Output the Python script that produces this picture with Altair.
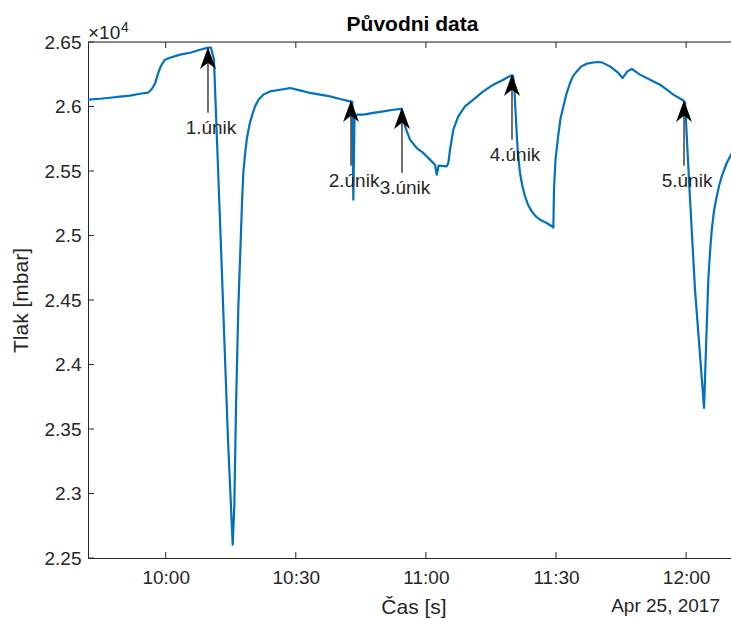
import altair as alt
import pandas as pd

# ---------------- data ----------------
DAY = "2017-04-25T"

times = [
    "09:42:05", "09:44:51", "09:47:09", "09:49:28", "09:51:46", "09:54:04",
    "09:55:55", "09:56:50", "09:57:32", "09:58:13", "09:58:55", "09:59:50",
    "10:01:00", "10:03:18", "10:05:36", "10:07:55", "10:09:45", "10:10:27",
    "10:11:08", "10:12:41", "10:14:22", "10:15:27", "10:15:49", "10:16:13",
    "10:16:45", "10:17:18", "10:17:36", "10:17:54", "10:18:17", "10:18:41",
    "10:19:03", "10:19:26", "10:19:58", "10:20:36", "10:21:24",
    "10:22:30", "10:24:03", "10:26:22", "10:28:40", "10:30:58", "10:33:17",
    "10:35:35", "10:37:53", "10:40:12", "10:42:30", "10:43:02", "10:43:16",
    "10:43:32", "10:44:11", "10:45:34", "10:47:52", "10:50:11", "10:52:29",
    "10:54:25", "10:55:11", "10:56:20", "10:57:53", "10:59:24", "11:00:57",
    "11:02:06", "11:02:30", "11:02:55", "11:04:48", "11:05:10", "11:05:34",
    "11:06:19", "11:07:28", "11:09:01", "11:10:56", "11:13:14", "11:15:33",
    "11:17:51", "11:19:33", "11:20:05", "11:20:19", "11:20:56", "11:21:14",
    "11:21:42", "11:22:14", "11:22:51", "11:23:33", "11:24:24", "11:25:17",
    "11:26:19", "11:27:51", "11:29:14", "11:29:23",
    "11:29:32", "11:29:53", "11:30:32", "11:31:02", "11:31:41", "11:32:25",
    "11:33:14", "11:33:55", "11:34:47", "11:35:46",
    "11:37:05", "11:39:23", "11:40:33", "11:42:27", "11:44:22", "11:45:23",
    "11:46:27", "11:47:28", "11:49:22", "11:51:41", "11:53:59", "11:55:32",
    "11:57:03", "11:59:22", "11:59:45", "12:00:47", "12:02:03", "12:04:08",
    "12:04:36", "12:05:07", "12:05:31", "12:05:55", "12:06:26", "12:07:04",
    "12:07:36", "12:08:13", "12:09:22", "12:10:21", "12:11:31",
]
pressure = [
    26053, 26060, 26068, 26076, 26084, 26099,
    26107, 26138, 26177, 26254, 26316, 26363,
    26378, 26402, 26417, 26440, 26456, 26456,
    26363, 24967, 23417, 22603, 22900, 23675,
    24450, 24968, 25254, 25487, 25626, 25743,
    25812, 25875, 25937, 26001, 26053,
    26092, 26117, 26130, 26143, 26125, 26105,
    26092, 26078, 26058, 26040, 26036, 25278,
    25913, 25937, 25937, 25950, 25962, 25975,
    25981, 25846, 25743, 25678, 25640, 25588,
    25549, 25471, 25541, 25536, 25562, 25665,
    25820, 25923, 26001, 26053, 26117, 26169,
    26208, 26239, 26239, 26182, 25795, 25626,
    25485, 25386, 25303, 25239, 25187, 25150,
    25122, 25097, 25068, 25061,
    25355, 25588, 25781, 25905, 25999, 26099,
    26182, 26235, 26272, 26309,
    26332, 26345, 26342, 26311, 26260, 26221,
    26272, 26291, 26247, 26208, 26169, 26130,
    26092, 26047, 26030, 25355, 24580, 23663,
    24140, 24657, 24874, 25045, 25192, 25303,
    25386, 25458, 25562, 25626, 25681,
]

ann_times = ["10:09:45", "10:42:44", "10:54:29", "11:19:51", "11:59:31"]
ann_values = [26456, 26045, 25991, 26247, 26045]
ann_labels = ["1.únik", "2.únik", "3.únik", "4.únik", "5.únik"]

y_ticks = [22500, 23000, 23500, 24000, 24500, 25000, 25500, 26000, 26500]
x_ticks = ["10:00:00", "10:30:00", "11:00:00", "11:30:00", "12:00:00"]

title_text = "Původni data"
x_title = "Čas [s]"
y_title = "Tlak [mbar]"
date_text = "Apr 25, 2017"

# ---------------- tables ----------------
df = pd.DataFrame({"t": [DAY + t for t in times], "p": pressure})
ann = pd.DataFrame({"t": [DAY + t for t in ann_times], "p": ann_values, "label": ann_labels})
yt = pd.DataFrame({"p": y_ticks})
xt = pd.DataFrame({"t": [DAY + t for t in x_ticks]})
one = pd.DataFrame({"a": [0]})

W, H = 643, 516
FONT = "Liberation Sans"
AX = "#262626"
BLUE = "#0072BD"


def dt(h, m, s=0):
    return alt.DateTime(year=2017, month=4, date=25, hours=h, minutes=m, seconds=s)


xscale = alt.Scale(domain=[dt(9, 42, 5), dt(12, 10, 21)])
yscale = alt.Scale(domain=[22500, 26500], nice=False, zero=False)

x_axis = alt.Axis(
    values=[dt(10, 0), dt(10, 30), dt(11, 0), dt(11, 30), dt(12, 0)],
    format="%H:%M", grid=False, ticks=False, tickSize=0,
    domainColor=AX, domainWidth=1, labelColor=AX, labelFont=FONT,
    labelFontSize=19, labelPadding=10, title=x_title, titleFont=FONT,
    titleFontSize=21, titleFontWeight="normal", titleColor=AX,
    titleBaseline="alphabetic", titleY=55, titleX=W / 2 + 4,
)
y_axis = alt.Axis(
    values=y_ticks, labelExpr="'' + datum.value / 10000", grid=False,
    ticks=False, tickSize=0, domainColor=AX, domainWidth=1, labelColor=AX,
    labelFont=FONT, labelFontSize=19, labelPadding=7, title=y_title,
    titleFont=FONT, titleFontSize=21, titleFontWeight="normal",
    titleColor=AX, titleBaseline="alphabetic", titleAngle=270,
    titleX=-61, titleY=H / 2,
)

line = alt.Chart(df).mark_line(
    color=BLUE, strokeWidth=2.2, clip=True, strokeJoin="round"
).encode(
    x=alt.X("t:T", scale=xscale, axis=x_axis),
    y=alt.Y("p:Q", scale=yscale, axis=y_axis),
)

top_border = alt.Chart(one).mark_rule(color=AX, strokeWidth=1).encode(
    x=alt.value(0), x2=alt.value(W), y=alt.value(0)
)

left_ticks = alt.Chart(yt).mark_rule(color=AX, strokeWidth=1).encode(
    y=alt.Y("p:Q", scale=yscale), x=alt.value(0), x2=alt.value(6)
)
bottom_ticks = alt.Chart(xt).mark_rule(color=AX, strokeWidth=1).encode(
    x=alt.X("t:T", scale=xscale), y=alt.value(H), y2=alt.value(H - 6)
)
top_ticks = alt.Chart(xt).mark_rule(color=AX, strokeWidth=1).encode(
    x=alt.X("t:T", scale=xscale), y=alt.value(0), y2=alt.value(6)
)

shafts = alt.Chart(ann).mark_rule(color="#333333", strokeWidth=1.4, yOffset=14, y2Offset=65).encode(
    x=alt.X("t:T", scale=xscale), y=alt.Y("p:Q", scale=yscale), y2="p:Q"
)
heads = alt.Chart(ann).mark_point(
    shape="M0,-1 L0.7,0.9 L0,0.35 L-0.7,0.9 Z", size=520, filled=True,
    color="#000000", opacity=1, strokeWidth=0, yOffset=11,
).encode(x=alt.X("t:T", scale=xscale), y=alt.Y("p:Q", scale=yscale))
labels = alt.Chart(ann).mark_text(
    font=FONT, fontSize=19, color=AX, dy=80, dx=3, baseline="middle", align="center"
).encode(x=alt.X("t:T", scale=xscale), y=alt.Y("p:Q", scale=yscale), text="label:N")

title = alt.Chart(one).mark_text(
    text=title_text, font=FONT, fontSize=21, fontWeight="bold", color="#000000",
    align="center", baseline="alphabetic",
).encode(x=alt.value(W / 2 + 3), y=alt.value(-11))

exp_base = alt.Chart(one).mark_text(
    text="×10", font=FONT, fontSize=19, color=AX, align="left", baseline="alphabetic"
).encode(x=alt.value(0), y=alt.value(-3))
exp_pow = alt.Chart(one).mark_text(
    text="4", font=FONT, fontSize=14, color=AX, align="left", baseline="alphabetic"
).encode(x=alt.value(33), y=alt.value(-10))

date_lbl = alt.Chart(one).mark_text(
    text=date_text, font=FONT, fontSize=19, color=AX, align="right", baseline="alphabetic"
).encode(x=alt.value(632), y=alt.value(570))

chart = alt.layer(
    line, top_border, left_ticks, bottom_ticks, top_ticks,
    shafts, heads, labels, title, exp_base, exp_pow, date_lbl,
).properties(
    width=W, height=H,
    autosize=alt.AutoSizeParams(type="none"),
    padding={"left": 88, "top": 42, "right": 0, "bottom": 61},
).configure_view(stroke=None).configure(background="white")

chart.save("out.html", embed_options={"renderer": "svg", "actions": False})
